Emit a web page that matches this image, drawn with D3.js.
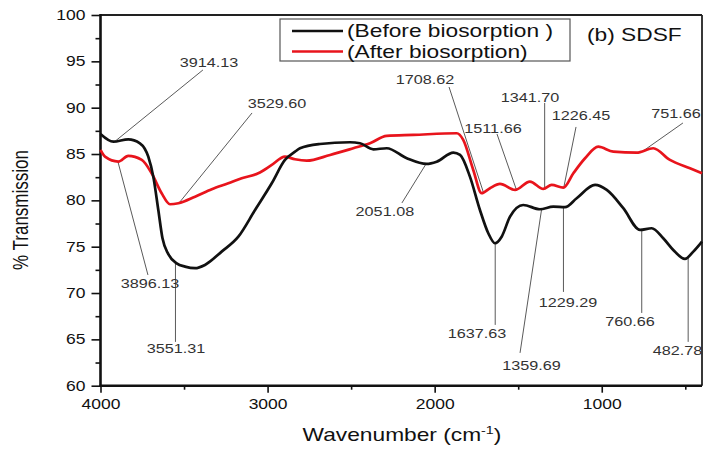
<!DOCTYPE html>
<html>
<head>
<meta charset="utf-8">
<script src="https://cdn.jsdelivr.net/npm/d3@7"></script>
<style>
  html, body { margin: 0; padding: 0; background: #fff; }
  svg { display: block; font-family: Arial, "Liberation Sans", Helvetica, sans-serif; }
</style>
</head>
<body>
<svg id="chart" width="709" height="449"></svg>
<script>
// FTIR spectra of SDSF, wavenumber (cm-1) vs % transmission
const beforeWave = [4000, 3923, 3834, 3764, 3714, 3684, 3654, 3629, 3594, 3544, 3494, 3434, 3375, 3275, 3175, 3075, 2975, 2896, 2836, 2806, 2687, 2507, 2447, 2367, 2287, 2167, 2048, 1988, 1888, 1848, 1789, 1729, 1679, 1639, 1599, 1549, 1470, 1370, 1290, 1220, 1150, 1040, 970, 871, 771, 701, 632, 572, 502, 452, 400];
const beforeT    = [87.16, 86.33, 86.59, 86.16, 84.71, 82.56, 78.96, 75.90, 74.20, 73.20, 72.85, 72.68, 73.03, 74.47, 76.08, 78.96, 81.84, 84.36, 85.25, 85.62, 86.08, 86.27, 86.16, 85.51, 85.62, 84.54, 83.93, 84.17, 85.15, 84.90, 82.56, 78.96, 76.45, 75.37, 76.08, 78.24, 79.50, 79.04, 79.32, 79.26, 80.23, 81.66, 81.12, 79.15, 76.81, 76.99, 75.91, 74.65, 73.68, 74.47, 75.55];

const afterWave = [4000, 3973, 3893, 3834, 3753, 3694, 3634, 3584, 3534, 3434, 3334, 3235, 3155, 3056, 2975, 2896, 2836, 2766, 2626, 2487, 2387, 2287, 2128, 1868, 1829, 1769, 1719, 1669, 1609, 1519, 1430, 1350, 1300, 1230, 1170, 1100, 1021, 931, 791, 692, 592, 472, 400];
const afterT    = [85.44, 84.71, 84.18, 84.79, 84.36, 82.92, 80.77, 79.58, 79.69, 80.40, 81.20, 81.84, 82.38, 82.92, 83.82, 84.71, 84.43, 84.28, 84.90, 85.62, 86.16, 86.95, 87.06, 87.24, 86.52, 83.28, 80.77, 81.31, 81.77, 81.12, 82.02, 81.23, 81.66, 81.37, 82.92, 84.54, 85.79, 85.25, 85.15, 85.62, 84.36, 83.46, 82.92];

const seriesNames = ["(Before biosorption )", "(After biosorption)"];
const panelTitle = "(b) SDSF";

const xMajorTicks = [4000, 3000, 2000, 1000];
const xMinorTicks = [3500, 2500, 1500, 500];
const yMajorTicks = [60, 65, 70, 75, 80, 85, 90, 95, 100];
const yMinorTicks = [62.5, 67.5, 72.5, 77.5, 82.5, 87.5, 92.5, 97.5];

// Peak labels: wavenumber, which spectrum it marks, label centre and leader end (data units)
const peakLabels = ["3914.13", "3529.60", "3896.13", "3551.31", "2051.08", "1708.62", "1511.66", "1341.70", "1226.45", "751.66", "1637.63", "1359.69", "1229.29", "760.66", "482.78"];
const peakSeries = [0, 1, 1, 0, 0, 1, 1, 1, 1, 1, 0, 0, 0, 0, 0];
const labelWave  = [3351, 2944, 3704, 3548, 2298, 2058, 1651, 1430, 1124, 555, 1747, 1420, 1202, 831, 547];
const labelT     = [94.93, 90.51, 71.09, 64.08, 78.86, 93.10, 87.81, 91.15, 89.21, 89.43, 65.70, 62.25, 69.04, 66.99, 63.86];
const leaderWave = [3387, 3093, 3716, null, 2196, 1914, 1627, null, 1154, 514, null, 1489, null, null, null];
const leaderT    = [94.07, 89.43, 71.95, 64.73, 79.72, 92.23, 87.16, 90.51, 87.92, 88.35, 66.56, 63.54, 70.12, 67.85, 64.73];

const svg = d3.select("#chart");
const x = d3.scaleLinear().domain([4000, 400]).range([100.5, 702]);
const y = d3.scaleLinear().domain([60, 100]).range([385.7, 15]);

const series = [
  { wave: beforeWave, t: beforeT, color: "#111111" },
  { wave: afterWave,  t: afterT,  color: "#e8141c" }
];

// stretched text helper: glyphs are drawn a little wider than the font's default
function wideText(g, str, px, py, size, sx, anchor) {
  return g.append("text")
    .attr("transform", `translate(${px},${py}) scale(${sx},1)`)
    .attr("text-anchor", anchor || "start")
    .attr("font-size", size)
    .text(str);
}

// value of a spectrum at a given wavenumber (linear between samples)
function valueAt(s, w) {
  for (let i = 0; i < s.wave.length - 1; i++) {
    const a = s.wave[i], b = s.wave[i + 1];
    if (w <= a && w >= b) {
      const f = (a - w) / (a - b);
      return s.t[i] + f * (s.t[i + 1] - s.t[i]);
    }
  }
  return s.t[s.t.length - 1];
}

// axes
const xAxis = d3.axisBottom(x).tickValues(xMajorTicks).tickSize(7).tickPadding(4).tickFormat(d3.format("d"));
const xMinor = d3.axisBottom(x).tickValues(xMinorTicks).tickSize(4).tickFormat("");
const yAxis = d3.axisLeft(y).tickValues(yMajorTicks).tickSize(9).tickPadding(6).tickFormat(d3.format("d"));
const yMinor = d3.axisLeft(y).tickValues(yMinorTicks).tickSize(5).tickFormat("");

const gx = svg.append("g").attr("transform", `translate(0,${y(60)})`).call(xAxis);
svg.append("g").attr("transform", `translate(0,${y(60)})`).call(xMinor);
const gy = svg.append("g").attr("transform", `translate(${x(4000)},0)`).call(yAxis);
svg.append("g").attr("transform", `translate(${x(4000)},0)`).call(yMinor);

svg.selectAll(".domain").remove();
svg.selectAll(".tick line").attr("stroke", "#111").attr("stroke-width", 1.6);

gx.selectAll(".tick text")
  .attr("font-size", 14).attr("fill", "#111")
  .attr("font-family", "Arial, 'Liberation Sans', sans-serif")
  .attr("transform", "scale(1.25,1)")
  .attr("dy", "0.9em");
gy.selectAll(".tick text")
  .attr("font-size", 14).attr("fill", "#111")
  .attr("font-family", "Arial, 'Liberation Sans', sans-serif")
  .attr("x", -15 / 1.25)
  .attr("transform", "scale(1.25,1)");

// frame
svg.append("line").attr("x1", x(4000)).attr("x2", x(400)).attr("y1", y(100)).attr("y2", y(100))
  .attr("stroke", "#222").attr("stroke-width", 1.8);
svg.append("line").attr("x1", x(400)).attr("x2", x(400)).attr("y1", y(100)).attr("y2", y(60))
  .attr("stroke", "#222").attr("stroke-width", 1.8);
svg.append("line").attr("x1", x(4000)).attr("x2", x(4000)).attr("y1", y(100) - 1).attr("y2", y(60) + 1)
  .attr("stroke", "#111").attr("stroke-width", 2.6);
svg.append("line").attr("x1", x(4000) - 1).attr("x2", x(400)).attr("y1", y(60)).attr("y2", y(60))
  .attr("stroke", "#111").attr("stroke-width", 2.6);

// peak leader lines
const leaders = svg.append("g").attr("stroke", "#5a5a5a").attr("stroke-width", 1);
peakLabels.forEach((lab, i) => {
  const w = +lab;
  const s = series[peakSeries[i]];
  const x0 = x(w), y0 = y(valueAt(s, w));
  const x1 = leaderWave[i] === null ? x0 : x(leaderWave[i]);
  const y1 = y(leaderT[i]);
  leaders.append("line").attr("x1", x0).attr("y1", y0).attr("x2", x1).attr("y2", y1);
});

// spectra
const line = d3.line().x(d => x(d[0])).y(d => y(d[1])).curve(d3.curveMonotoneX);
series.slice().reverse().forEach(s => {
  const pts = s.wave.map((w, i) => [w, s.t[i]]).reverse();
  svg.append("path").datum(pts)
    .attr("d", line)
    .attr("fill", "none")
    .attr("stroke", s.color)
    .attr("stroke-width", 2.7)
    .attr("stroke-linejoin", "round");
});

// peak labels
const labels = svg.append("g").attr("fill", "#333");
peakLabels.forEach((lab, i) => {
  wideText(labels, lab, x(labelWave[i]), y(labelT[i]) + 5, 13.5, 1.2, "middle");
});

// legend
const lg = svg.append("g");
lg.append("rect").attr("x", 280).attr("y", 19).attr("width", 290).attr("height", 42)
  .attr("fill", "#fff").attr("stroke", "#555").attr("stroke-width", 1.2);
series.forEach((s, i) => {
  const yy = 31 + i * 20.5;
  lg.append("line").attr("x1", 292).attr("x2", 343).attr("y1", yy).attr("y2", yy)
    .attr("stroke", s.color).attr("stroke-width", 2.7);
  wideText(lg, seriesNames[i], 347, yy + 6, 17.5, 1.3).attr("fill", "#111");
});

wideText(svg, panelTitle, 587, 41, 17.5, 1.3).attr("fill", "#111");

// axis titles
const xt = svg.append("text")
  .attr("transform", "translate(402,441) scale(1.3,1)")
  .attr("text-anchor", "middle")
  .attr("font-size", 17.5)
  .attr("fill", "#111");
xt.append("tspan").text("Wavenumber (cm");
xt.append("tspan").attr("font-size", 11).attr("dy", -7).text("-1");
xt.append("tspan").attr("dy", 7).text(")");

svg.append("text")
  .attr("transform", "translate(28,210) rotate(-90) scale(1,1.3)")
  .attr("text-anchor", "middle")
  .attr("font-size", 17)
  .attr("fill", "#111")
  .text("% Transmission");
</script>
</body>
</html>
